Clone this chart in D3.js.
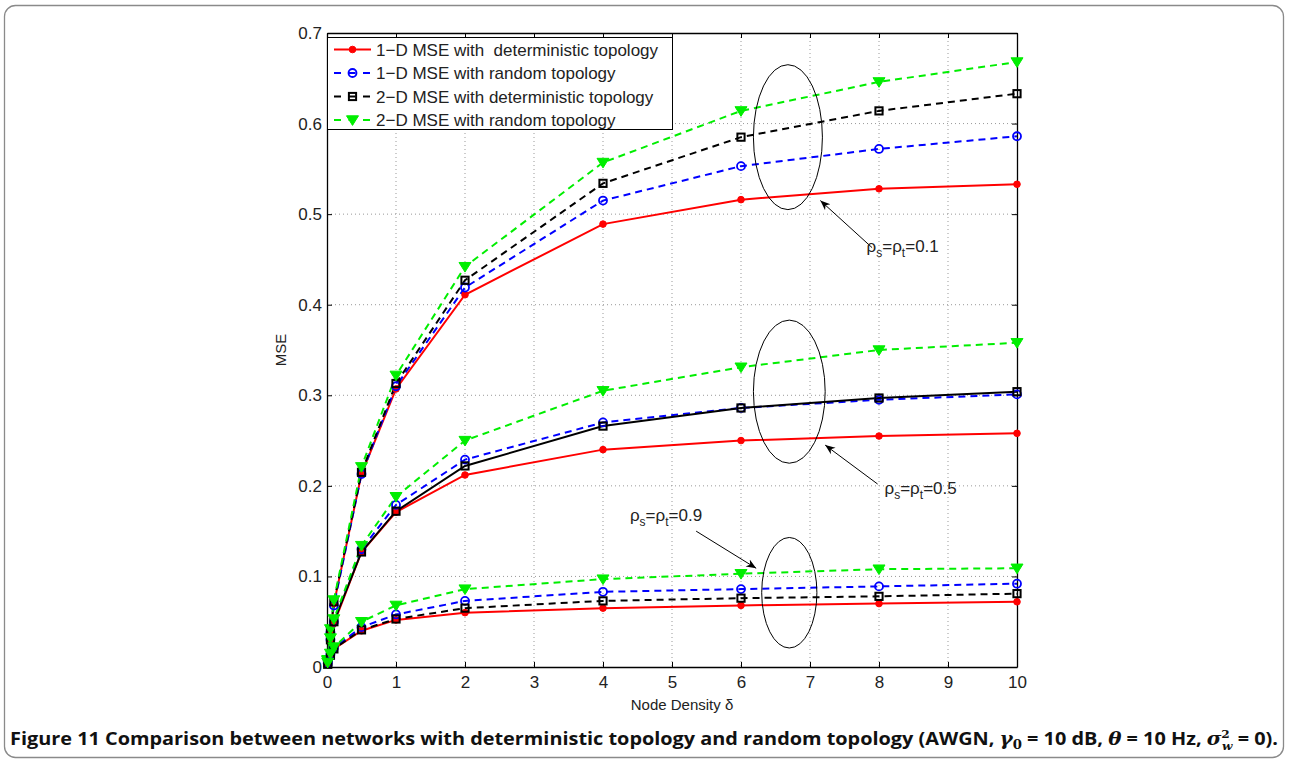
<!DOCTYPE html>
<html><head><meta charset="utf-8">
<script src="https://cdn.jsdelivr.net/npm/d3@7"></script>
<style>
html,body{margin:0;padding:0;background:#fff;}
svg{display:block;}
svg text{font-family:"Liberation Sans",Arial,sans-serif;white-space:pre;}
svg text.cap{font-family:"Open Sans","Liberation Sans",sans-serif;}
</style></head>
<body>
<svg id="chart" width="1289" height="763"></svg>
<script>
// ---------- data ----------
const xVals = [0.01, 0.05, 0.1, 0.5, 1, 2, 4, 6, 8, 10];
const xTicks = [0,1,2,3,4,5,6,7,8,9,10];
const yTicks = [0,0.1,0.2,0.3,0.4,0.5,0.6,0.7];
const seriesNames = ["1\u2212D MSE with  deterministic topology","1\u2212D MSE with random topology","2\u2212D MSE with deterministic topology","2\u2212D MSE with random topology"];
// rho = 0.1
const det1D_r01 = [0.005,0.037,0.070,0.213,0.307,0.411,0.489,0.516,0.528,0.533];
const rnd1D_r01 = [0.008,0.038,0.068,0.213,0.310,0.419,0.515,0.553,0.572,0.586];
const det2D_r01 = [0.006,0.040,0.072,0.215,0.313,0.427,0.534,0.585,0.614,0.633];
const rnd2D_r01 = [0.008,0.042,0.074,0.221,0.322,0.442,0.557,0.614,0.646,0.668];
// rho = 0.5
const det1D_r05 = [0.004,0.028,0.048,0.127,0.171,0.212,0.240,0.250,0.255,0.258];
const rnd1D_r05 = [0.006,0.030,0.050,0.130,0.179,0.229,0.270,0.286,0.295,0.301];
const det2D_r05 = [0.005,0.030,0.050,0.127,0.172,0.222,0.266,0.286,0.297,0.304];
const rnd2D_r05 = [0.007,0.032,0.053,0.134,0.188,0.250,0.305,0.331,0.350,0.358];
// rho = 0.9
const det1D_r09 = [0.003,0.013,0.020,0.040,0.052,0.060,0.065,0.068,0.070,0.072];
const rnd1D_r09 = [0.004,0.014,0.021,0.044,0.058,0.073,0.083,0.086,0.089,0.092];
const det2D_r09 = [0.003,0.013,0.020,0.041,0.053,0.065,0.073,0.076,0.078,0.081];
const rnd2D_r09 = [0.005,0.015,0.022,0.050,0.068,0.086,0.097,0.103,0.108,0.109];

const styles = [
  {color:"#ff0000", dash:null, marker:"dot"},
  {color:"#0000ff", dash:"7,5", marker:"circle"},
  {color:"#000000", dash:"7,5", marker:"square"},
  {color:"#00ee00", dash:"7,5", marker:"tri"}
];
const groups = [
  [det1D_r01, rnd1D_r01, det2D_r01, rnd2D_r01],
  [det1D_r05, rnd1D_r05, det2D_r05, rnd2D_r05],
  [det1D_r09, rnd1D_r09, det2D_r09, rnd2D_r09]
];
// the 2-D deterministic curve for rho=0.5 is drawn solid in the source
const solidOverride = {"1-2": true};

// ---------- layout ----------
const svg = d3.select("#chart");
const L = 327, R = 1017, T = 33, B = 667;
const x = d3.scaleLinear().domain([0,10]).range([L,R]);
const y = d3.scaleLinear().domain([0,0.7]).range([B,T]);

// outer rounded frame
svg.append("rect").attr("x",4.5).attr("y",5.5).attr("width",1279).attr("height",752)
  .attr("rx",11).attr("fill","none").attr("stroke","#8a8a8a").attr("stroke-width",1.3);

// grid
const grid = svg.append("g").attr("stroke","#999").attr("stroke-width",1).attr("stroke-dasharray","1,3");
xTicks.slice(1,-1).forEach(t=>grid.append("line").attr("x1",x(t)).attr("x2",x(t)).attr("y1",T).attr("y2",B));
yTicks.slice(1,-1).forEach(t=>grid.append("line").attr("x1",L).attr("x2",R).attr("y1",y(t)).attr("y2",y(t)));

// axes with inner ticks
const fs = 17;
const axB = svg.append("g").attr("transform",`translate(0,${B})`)
  .call(d3.axisBottom(x).tickValues(xTicks).tickFormat(d3.format("d")).tickSizeInner(-5).tickSizeOuter(0).tickPadding(9));
const axT = svg.append("g").attr("transform",`translate(0,${T})`)
  .call(d3.axisTop(x).tickValues(xTicks).tickFormat("").tickSizeInner(-5).tickSizeOuter(0));
const axL = svg.append("g").attr("transform",`translate(${L},0)`)
  .call(d3.axisLeft(y).tickValues(yTicks).tickFormat(d=>d===0?"0":d3.format(".1f")(d)).tickSizeInner(-5).tickSizeOuter(0).tickPadding(5));
const axR = svg.append("g").attr("transform",`translate(${R},0)`)
  .call(d3.axisRight(y).tickValues(yTicks).tickFormat("").tickSizeInner(-5).tickSizeOuter(0));
[axB,axT,axL,axR].forEach(a=>{
  a.attr("font-family",null).attr("font-size",null);
  a.selectAll("path").attr("stroke","#000").attr("stroke-width",1.3);
  a.selectAll("line").attr("stroke","#000").attr("stroke-width",1);
  a.selectAll("text").attr("font-size",fs).attr("fill","#222");
});

// axis labels
svg.append("text").attr("x",(L+R)/2+10).attr("y",710).attr("text-anchor","middle").attr("font-size",15).attr("fill","#222").text("Node Density \u03b4");
svg.append("text").attr("transform",`translate(286,${(T+B)/2}) rotate(-90)`).attr("text-anchor","middle").attr("font-size",15).attr("fill","#222").text("MSE");

// marker drawing helper
function drawMarker(g, cx, cy, st){
  if(st.marker==="dot"){
    g.append("circle").attr("cx",cx).attr("cy",cy).attr("r",3.3).attr("fill",st.color).attr("stroke",st.color);
  } else if(st.marker==="circle"){
    g.append("circle").attr("cx",cx).attr("cy",cy).attr("r",4).attr("fill","none").attr("stroke",st.color).attr("stroke-width",1.8);
  } else if(st.marker==="square"){
    g.append("rect").attr("x",cx-3.6).attr("y",cy-3.6).attr("width",7.2).attr("height",7.2).attr("fill","none").attr("stroke",st.color).attr("stroke-width",2);
  } else if(st.marker==="tri"){
    const s=6;
    g.append("path").attr("d",`M${cx-s},${cy-s*0.7}L${cx+s},${cy-s*0.7}L${cx},${cy+s*0.9}Z`).attr("fill",st.color).attr("stroke",st.color).attr("stroke-width",1);
  }
}

// lines
const line = d3.line().x((d,i)=>x(xVals[i])).y(d=>y(d));
const plot = svg.append("g");
groups.forEach((grp,gi)=>{
  grp.forEach((vals,si)=>{
    const st = styles[si];
    const dash = solidOverride[`${gi}-${si}`] ? null : st.dash;
    plot.append("path").datum(vals).attr("d",line).attr("fill","none")
      .attr("stroke",st.color).attr("stroke-width",2).attr("stroke-dasharray",dash);
  });
});
groups.forEach((grp,gi)=>{
  grp.forEach((vals,si)=>{
    vals.forEach((v,i)=>drawMarker(plot, x(xVals[i]), y(v), styles[si]));
  });
});

// ellipses (data coords)
const ellipses = [
  {cx:6.68, cy:0.585, rx:0.5, ry:0.08},
  {cx:6.7, cy:0.304, rx:0.52, ry:0.079},
  {cx:6.7, cy:0.082, rx:0.4, ry:0.061}
];
ellipses.forEach(e=>{
  svg.append("ellipse").attr("cx",x(e.cx)).attr("cy",y(e.cy))
    .attr("rx",x(e.rx)-x(0)).attr("ry",y(0)-y(e.ry))
    .attr("fill","none").attr("stroke","#000").attr("stroke-width",1);
});

// arrows
svg.append("defs").append("marker").attr("id","ah").attr("viewBox","0 0 10 10").attr("refX",10).attr("refY",5)
  .attr("markerWidth",10).attr("markerHeight",10).attr("markerUnits","userSpaceOnUse").attr("orient","auto")
  .append("path").attr("d","M0,1L10,5L0,9L3,5Z").attr("fill","#000");
const arrows = [
  {x1:7.9, y1:0.463, x2:7.15, y2:0.515},
  {x1:7.98, y1:0.202, x2:7.22, y2:0.245},
  {x1:5.35, y1:0.150, x2:6.22, y2:0.109}
];
arrows.forEach(a=>{
  svg.append("line").attr("x1",x(a.x1)).attr("y1",y(a.y1)).attr("x2",x(a.x2)).attr("y2",y(a.y2))
    .attr("stroke","#000").attr("stroke-width",1).attr("marker-end","url(#ah)");
});
// annotation text
const annots = [
  {x:7.82, y:0.458, val:"0.1"},
  {x:8.08, y:0.191, val:"0.5"},
  {x:4.39, y:0.161, val:"0.9"}
];
annots.forEach(a=>{
  const t = svg.append("text").attr("x",x(a.x)).attr("y",y(a.y)).attr("font-size",17).attr("fill","#222");
  t.append("tspan").text("\u03c1");
  t.append("tspan").attr("font-size",12).attr("dy",5).text("s");
  t.append("tspan").attr("dy",-5).text("=\u03c1");
  t.append("tspan").attr("font-size",12).attr("dy",5).text("t");
  t.append("tspan").attr("dy",-5).text("=" + a.val);
});

// legend
const lg = svg.append("g");
lg.append("rect").attr("x",327.5).attr("y",37.5).attr("width",345).attr("height",92)
  .attr("fill","#fff").attr("stroke","#000").attr("stroke-width",1);
seriesNames.forEach((name,i)=>{
  const yy = 49.5 + i*23.5;
  const st = styles[i];
  lg.append("line").attr("x1",334).attr("x2",371).attr("y1",yy).attr("y2",yy)
    .attr("stroke",st.color).attr("stroke-width",2).attr("stroke-dasharray",st.dash?"7,7.5":null);
  drawMarker(lg, 352.5, yy, st);
  lg.append("text").attr("x",376).attr("y",yy+6).attr("font-size",17).attr("fill","#222").text(name);
});

// caption
const cap = svg.append("text").attr("class","cap").attr("x",10).attr("y",745).attr("font-size",18).attr("font-weight","bold")
  .attr("fill","#111")
  .attr("textLength",1268).attr("lengthAdjust","spacingAndGlyphs");
cap.append("tspan").text("Figure 11 Comparison between networks with deterministic topology and random topology (AWGN, ");
cap.append("tspan").attr("font-style","italic").attr("font-family","'DejaVu Serif',serif").text("\u03b3");
cap.append("tspan").attr("font-size",12).attr("dy",4).attr("font-family","'DejaVu Serif',serif").text("0");
cap.append("tspan").attr("dy",-4).text(" = 10 dB, ");
cap.append("tspan").attr("font-style","italic").attr("font-family","'DejaVu Serif',serif").text("\u03b8");
cap.append("tspan").text(" = 10 Hz, ");
cap.append("tspan").attr("font-style","italic").attr("font-family","'DejaVu Serif',serif").text("\u03c3");
cap.append("tspan").attr("font-size",11).attr("dy",-7).attr("font-family","'DejaVu Serif',serif").text("2");
cap.append("tspan").attr("font-size",11).attr("font-style","italic").attr("dx",-7).attr("dy",12).attr("font-family","'DejaVu Serif',serif").text("w");
cap.append("tspan").attr("dy",-5).text(" = 0).");
</script>
</body></html>
